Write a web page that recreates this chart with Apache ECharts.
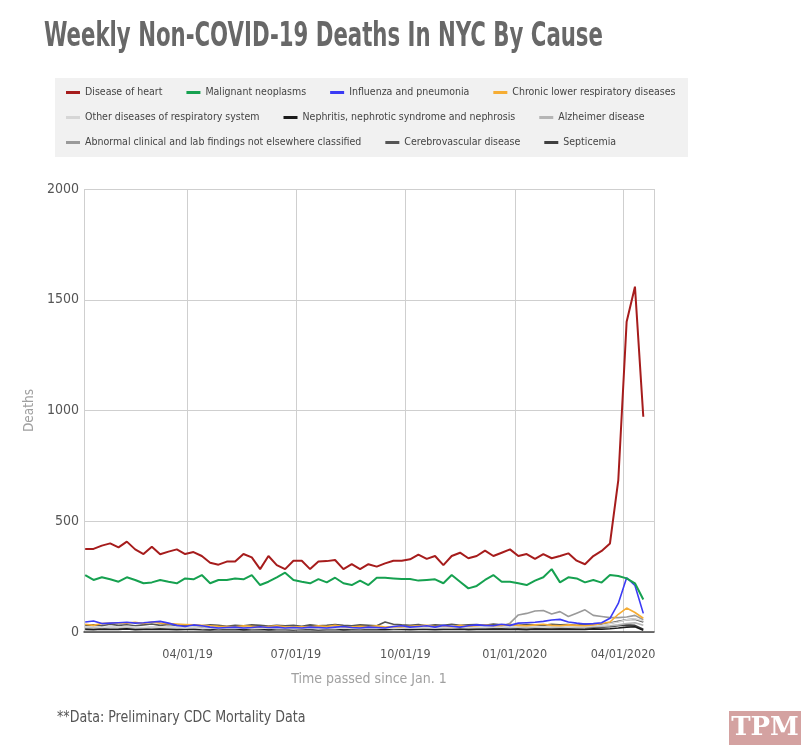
<!DOCTYPE html>
<html>
<head>
<meta charset="utf-8">
<title>Weekly Non-COVID-19 Deaths In NYC By Cause</title>
<script src="https://cdn.jsdelivr.net/npm/echarts@6/dist/echarts.min.js"></script>
<style>
  html, body { margin: 0; padding: 0; background: #fff; }
  #chart { width: 804px; height: 746px; }
</style>
</head>
<body>
<div id="chart"></div>
<script>
// week-ending dates (CDC weeks)
var weeks = [
  '2019-01-05', '2019-01-12', '2019-01-19', '2019-01-26', '2019-02-02', '2019-02-09',
  '2019-02-16', '2019-02-23', '2019-03-02', '2019-03-09', '2019-03-16', '2019-03-23',
  '2019-03-30', '2019-04-06', '2019-04-13', '2019-04-20', '2019-04-27', '2019-05-04',
  '2019-05-11', '2019-05-18', '2019-05-25', '2019-06-01', '2019-06-08', '2019-06-15',
  '2019-06-22', '2019-06-29', '2019-07-06', '2019-07-13', '2019-07-20', '2019-07-27',
  '2019-08-03', '2019-08-10', '2019-08-17', '2019-08-24', '2019-08-31', '2019-09-07',
  '2019-09-14', '2019-09-21', '2019-09-28', '2019-10-05', '2019-10-12', '2019-10-19',
  '2019-10-26', '2019-11-02', '2019-11-09', '2019-11-16', '2019-11-23', '2019-11-30',
  '2019-12-07', '2019-12-14', '2019-12-21', '2019-12-28', '2020-01-04', '2020-01-11',
  '2020-01-18', '2020-01-25', '2020-02-01', '2020-02-08', '2020-02-15', '2020-02-22',
  '2020-02-29', '2020-03-07', '2020-03-14', '2020-03-21', '2020-03-28', '2020-04-04',
  '2020-04-11', '2020-04-18'
];

var heart = [
  375, 375, 390, 400, 382, 408, 373, 352, 385, 351, 363, 373,
  352, 361, 343, 313, 304, 318, 318, 352, 337, 284, 343, 302,
  284, 322, 322, 284, 318, 320, 325, 284, 306, 284, 306, 295,
  310, 322, 322, 328, 349, 330, 343, 302, 343, 358, 333, 343,
  367, 343, 358, 373, 343, 352, 330, 352, 333, 343, 355, 322,
  306, 343, 366, 400, 686, 1401, 1559, 972
];
var neoplasms = [
  257, 235, 247, 238, 227, 247, 235, 220, 224, 235, 227, 220,
  242, 238, 257, 220, 235, 235, 242, 238, 257, 212, 227, 247,
  268, 235, 227, 220, 239, 224, 245, 220, 212, 232, 212, 245,
  245, 242, 239, 239, 232, 235, 238, 220, 257, 227, 197, 208,
  235, 257, 227, 227, 220, 212, 232, 247, 284, 224, 247, 242,
  224, 235, 223, 257, 253, 242, 220, 147
];
var influenza = [
  45, 50, 38, 40, 42, 44, 40, 42, 45, 48, 40, 30,
  25, 32, 28, 22, 18, 20, 22, 18, 20, 24, 20, 22,
  18, 20, 18, 22, 20, 18, 22, 25, 20, 18, 22, 20,
  18, 25, 28, 22, 25, 28, 22, 30, 26, 22, 28, 32,
  30, 28, 35, 30, 40, 42, 44, 48, 54, 57, 45, 40,
  36, 38, 42, 62, 129, 245, 210, 84
];
var chronicResp = [
  35, 30, 38, 40, 42, 40, 44, 38, 45, 40, 38, 36,
  34, 32, 30, 28, 26, 25, 24, 28, 26, 22, 25, 28,
  24, 22, 24, 22, 28, 25, 30, 24, 22, 26, 24, 28,
  22, 25, 24, 26, 28, 30, 25, 28, 24, 30, 26, 28,
  32, 28, 30, 34, 30, 28, 32, 35, 30, 28, 32, 30,
  28, 32, 38, 45, 80, 108, 88, 62
];
var otherResp = [
  22, 25, 20, 24, 22, 26, 22, 20, 24, 22, 20, 22,
  18, 20, 16, 18, 15, 17, 16, 18, 15, 16, 18, 15,
  16, 14, 15, 17, 14, 16, 15, 18, 16, 15, 17, 16,
  18, 16, 17, 19, 18, 20, 18, 21, 19, 20, 22, 20,
  22, 24, 22, 25, 24, 26, 25, 22, 24, 26, 23, 25,
  25, 28, 30, 38, 45, 55, 60, 50
];
var nephritis = [
  12, 10, 13, 11, 12, 14, 10, 12, 11, 13, 12, 10,
  11, 12, 10, 9, 11, 10, 12, 9, 10, 11, 9, 10,
  10, 9, 11, 10, 9, 10, 11, 9, 10, 12, 10, 11,
  10, 12, 11, 10, 12, 11, 10, 12, 11, 13, 10, 12,
  11, 12, 13, 11, 12, 10, 13, 12, 11, 13, 12, 11,
  12, 14, 13, 15, 18, 22, 24, 8
];
var alzheimer = [
  20, 22, 18, 21, 19, 22, 20, 18, 21, 19, 22, 20,
  18, 20, 17, 19, 18, 16, 19, 17, 18, 20, 17, 18,
  17, 18, 16, 19, 17, 18, 16, 18, 17, 19, 18, 17,
  18, 19, 17, 20, 18, 19, 21, 18, 20, 19, 21, 20,
  19, 21, 20, 22, 21, 20, 22, 21, 23, 20, 22, 21,
  22, 24, 25, 28, 32, 38, 42, 30
];
var abnormal = [
  15, 16, 14, 17, 15, 16, 14, 15, 17, 16, 15, 14,
  15, 14, 16, 15, 13, 15, 14, 16, 15, 14, 16, 15,
  14, 15, 16, 14, 15, 17, 15, 14, 16, 15, 14, 16,
  15, 16, 18, 17, 16, 18, 17, 19, 18, 17, 20, 19,
  21, 22, 25, 40, 77, 84, 95, 97, 81, 92, 70, 85,
  100, 75, 70, 65, 65, 68, 75, 55
];
var cerebro = [
  30, 32, 28, 35, 30, 33, 28, 32, 36, 30, 34, 30,
  32, 30, 28, 32, 30, 26, 30, 28, 32, 30, 27, 30,
  28, 30, 26, 32, 28, 30, 34, 30, 28, 32, 30, 28,
  45, 35, 32, 30, 34, 28, 32, 30, 35, 30, 32, 34,
  30, 36, 32, 34, 30, 34, 32, 30, 35, 32, 34, 30,
  36, 33, 35, 40, 48, 55, 58, 45
];
var septicemia = [
  18, 16, 19, 17, 18, 16, 17, 19, 18, 16, 17, 18,
  16, 15, 17, 16, 14, 15, 16, 14, 15, 16, 14, 15,
  14, 15, 13, 15, 14, 16, 15, 14, 13, 15, 14, 16,
  15, 14, 16, 15, 17, 16, 15, 17, 16, 18, 17, 16,
  18, 17, 19, 18, 17, 19, 18, 17, 19, 18, 17, 18,
  19, 20, 22, 24, 28, 32, 30, 12
];

var causes = [
  { name: 'Disease of heart', data: heart, color: '#a61c1c', width: 2 },
  { name: 'Malignant neoplasms', data: neoplasms, color: '#16a150', width: 2 },
  { name: 'Influenza and pneumonia', data: influenza, color: '#3b3bf5', width: 1.6 },
  { name: 'Chronic lower respiratory diseases', data: chronicResp, color: '#f6ad33', width: 1.6 },
  { name: 'Other diseases of respiratory system', data: otherResp, color: '#d6d6d6', width: 1.6 },
  { name: 'Nephritis, nephrotic syndrome and nephrosis', data: nephritis, color: '#1b1b1b', width: 1.6 },
  { name: 'Alzheimer disease', data: alzheimer, color: '#b5b5b5', width: 1.6 },
  { name: 'Abnormal clinical and lab findings not elsewhere classified', data: abnormal, color: '#9a9a9a', width: 1.6 },
  { name: 'Cerebrovascular disease', data: cerebro, color: '#555555', width: 1.6 },
  { name: 'Septicemia', data: septicemia, color: '#3f3f3f', width: 1.6 }
];

var legendRows = [
  ['Disease of heart', 'Malignant neoplasms', 'Influenza and pneumonia', 'Chronic lower respiratory diseases'],
  ['Other diseases of respiratory system', 'Nephritis, nephrotic syndrome and nephrosis', 'Alzheimer disease'],
  ['Abnormal clinical and lab findings not elsewhere classified', 'Cerebrovascular disease', 'Septicemia']
];

var FONT = '"DejaVu Sans Condensed", "DejaVu Sans", sans-serif';

function pad(n) { return n < 10 ? '0' + n : '' + n; }

// draw low series first so heart / neoplasms sit on top
var series = causes.slice().reverse().map(function (c) {
  return {
    name: c.name,
    type: 'line',
    showSymbol: false,
    symbol: 'none',
    animation: false,
    lineStyle: { color: c.color, width: c.width },
    itemStyle: { color: c.color },
    data: weeks.map(function (w, i) { return [w, c.data[i]]; })
  };
});

var chart = echarts.init(document.getElementById('chart'));
chart.setOption({
  backgroundColor: '#ffffff',
  textStyle: { fontFamily: FONT },
  graphic: [
    {
      type: 'rect', z: -10, silent: true,
      shape: { x: 55, y: 78, width: 633, height: 79 },
      style: { fill: '#f1f1f1' }
    },
    {
      // title, squeezed horizontally to get the narrow look
      type: 'text', x: 44, y: 20, scaleX: 0.695, silent: true,
      style: {
        text: 'Weekly Non-COVID-19 Deaths In NYC By Cause',
        fill: '#686868', verticalAlign: 'top',
        font: 'bold 34px ' + FONT
      }
    },
    {
      type: 'text', x: 57, y: 718, scaleX: 0.88, silent: true,
      style: {
        text: '**Data: Preliminary CDC Mortality Data', fill: '#555',
        verticalAlign: 'middle', font: '16px ' + FONT
      }
    },
    {
      type: 'group', x: 729, y: 711,
      children: [
        { type: 'rect', shape: { x: 0, y: 0, width: 72, height: 34 }, style: { fill: '#d4a2a1' } },
        {
          type: 'text', x: 36, y: 17,
          style: {
            text: 'TPM', fill: '#fff', align: 'center', verticalAlign: 'middle',
            font: 'bold 26px "DejaVu Serif", "Liberation Serif", serif'
          }
        }
      ]
    }
  ],
  legend: legendRows.map(function (row, r) {
    return {
      data: row,
      left: 66,
      top: 87 + r * 25,
      padding: 0,
      icon: 'rect',
      itemWidth: 14,
      itemHeight: 3,
      itemGap: 24,
      selectedMode: false,
      textStyle: { fontFamily: FONT, fontSize: 10.5, color: '#444' }
    };
  }),
  grid: { left: 84, right: 150, top: 189, bottom: 114, containLabel: false },
  xAxis: {
    type: 'time',
    min: '2019-01-04',
    max: '2020-04-27',
    splitNumber: 5,
    name: 'Time passed since Jan. 1',
    nameLocation: 'middle',
    nameGap: 40,
    nameTextStyle: { fontFamily: FONT, fontSize: 14, color: '#a0a0a0' },
    axisLine: { show: true, lineStyle: { color: '#444', width: 1.5 } },
    axisTick: { show: false },
    splitLine: { show: true, lineStyle: { color: '#cfcfcf', width: 1 } },
    axisLabel: {
      showMinLabel: false,
      showMaxLabel: false,
      margin: 16,
      fontFamily: FONT,
      fontSize: 12.5,
      color: '#555',
      formatter: function (value) {
        var d = new Date(value);
        var y = d.getFullYear();
        return pad(d.getMonth() + 1) + '/' + pad(d.getDate()) + '/' + (y === 2019 ? '19' : y);
      }
    }
  },
  yAxis: {
    type: 'value',
    min: 0,
    max: 2000,
    interval: 500,
    name: 'Deaths',
    nameLocation: 'middle',
    nameGap: 38,
    nameTextStyle: { fontFamily: FONT, fontSize: 13.5, color: '#a0a0a0' },
    axisLine: { show: false },
    axisTick: { show: false },
    splitLine: { lineStyle: { color: '#cfcfcf', width: 1 } },
    axisLabel: {
      margin: 5, fontFamily: FONT, fontSize: 14, color: '#555',
      formatter: function (v) { return String(v); }
    }
  },
  series: series
});
</script>
</body>
</html>
